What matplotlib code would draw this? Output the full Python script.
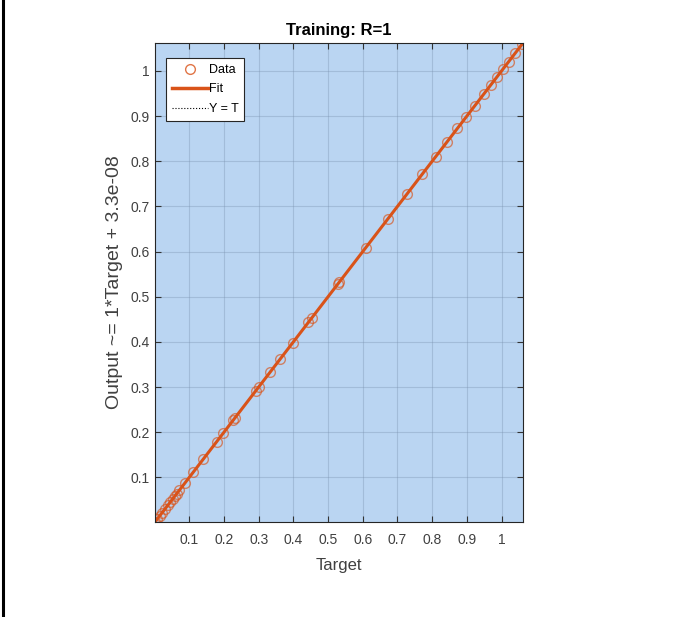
import numpy as np
import matplotlib.pyplot as plt
from matplotlib.lines import Line2D

# targets (R=1 so outputs equal targets)
targets = [0.002, 0.008, 0.015, 0.022, 0.030, 0.038, 0.045, 0.052, 0.058, 0.064,
           0.071, 0.088, 0.112, 0.140, 0.179, 0.198, 0.227, 0.232, 0.291, 0.300,
           0.333, 0.362, 0.398, 0.443, 0.453, 0.529, 0.532, 0.609, 0.673, 0.727,
           0.771, 0.810, 0.843, 0.873, 0.899, 0.923, 0.949, 0.970, 0.987, 1.004,
           1.021, 1.039, 1.060]
outputs = list(targets)
ticks = [0.1, 0.2, 0.3, 0.4, 0.5, 0.6, 0.7, 0.8, 0.9, 1.0]
tick_labels = ['0.1', '0.2', '0.3', '0.4', '0.5', '0.6', '0.7', '0.8', '0.9', '1']

narrow = ['Liberation Sans Narrow', 'Liberation Sans', 'DejaVu Sans']
orange = '#D95319'

fig = plt.figure(figsize=(6.87, 6.17), dpi=100)
ax = fig.add_axes([0.2256, 0.154, 0.5357, 0.7763])
ax.set_facecolor('#BAD5F2')

t = np.array(targets)
lo, hi = 0.001, 1.062
ax.plot([lo, hi], [lo, hi], ':', color='black', lw=0.8, label='Y = T')
ax.plot([lo, hi], [lo, hi], '-', color=orange, lw=2.2, label='Fit')
ax.plot(t, outputs, 'o', mfc='none', mec=orange, mew=1.0, ms=7, alpha=0.65, label='Data')

ax.set_xlim(lo, hi)
ax.set_ylim(lo, hi)
ax.set_xticks(ticks)
ax.set_xticklabels(tick_labels, fontfamily=narrow, fontsize=10, color='#404040')
ax.set_yticks(ticks)
ax.set_yticklabels(tick_labels, fontfamily=narrow, fontsize=10, color='#404040')
ax.tick_params(direction='in', top=True, right=True, length=4, width=0.8, pad=4, color='#333333')
ax.tick_params(axis='x', pad=8)
ax.grid(True, color='#7890ad', lw=0.8, alpha=0.35)
for s in ax.spines.values():
    s.set_color('#262626')
    s.set_linewidth(0.8)

ax.set_title('Training: R=1', fontfamily=narrow, fontsize=12, fontweight='bold', pad=6)
ax.set_xlabel('Target', fontfamily=narrow, fontsize=12, color='#404040', labelpad=8)
ax.set_ylabel('Output ~= 1*Target + 3.3e-08', fontfamily=narrow, fontsize=14,
              color='#404040', labelpad=5)

handles = [Line2D([], [], ls='none', marker='o', mfc='none', mec=orange, ms=7, alpha=0.8),
           Line2D([], [], color=orange, lw=2.5),
           Line2D([], [], color='black', ls=':', lw=0.8)]
leg = ax.legend(handles, ['Data', 'Fit', 'Y = T'], loc='upper left',
                bbox_to_anchor=(0.03, 0.968), fancybox=False, framealpha=1,
                edgecolor='#262626', prop={'family': narrow, 'size': 9},
                handlelength=2.9, handletextpad=0.05, borderpad=0.45,
                labelspacing=0.6, borderaxespad=0)
leg.get_frame().set_linewidth(0.8)

# black border line at left edge of the image
fig.add_artist(Line2D([0.004, 0.004], [0, 1], color='black', lw=2.2, transform=fig.transFigure))

fig.savefig('out.png', dpi=100, facecolor='white')
